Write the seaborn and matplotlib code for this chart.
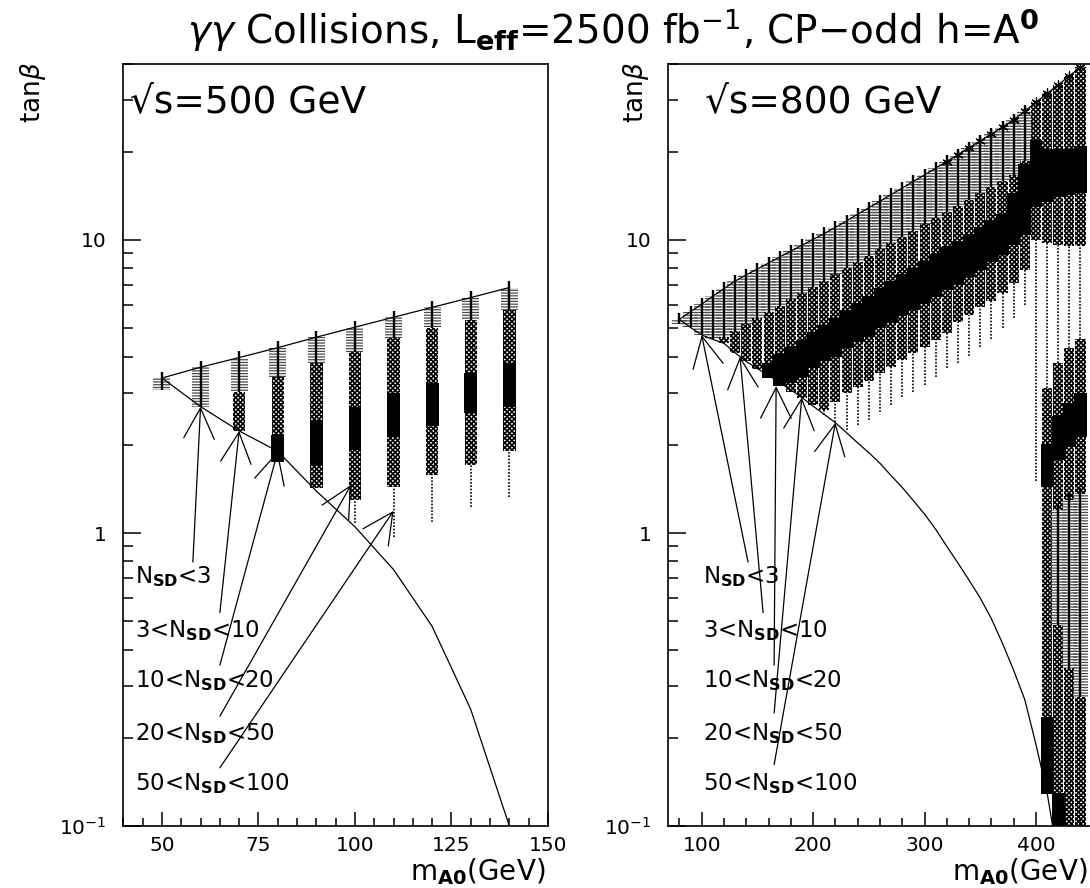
import numpy as np
import matplotlib
matplotlib.use("Agg")
import matplotlib.pyplot as plt
import matplotlib.ticker as mticker
import seaborn as sns

sns.set_style("ticks")
plt.rcParams["font.family"] = ["DejaVu Sans"]
plt.rcParams["mathtext.fontset"] = "dejavusans"
plt.rcParams["hatch.linewidth"] = 1.1
for key in ("text.color", "axes.labelcolor", "xtick.color", "ytick.color", "axes.edgecolor"):
    plt.rcParams[key] = "black"

# ---------- sqrt(s) = 500 GeV (left) ----------
l_mass = [50, 60, 70, 80, 90, 100, 110, 120, 130, 140]
l_top = [3.38, 3.68, 3.97, 4.29, 4.66, 5.04, 5.45, 5.89, 6.36, 6.88]
l_gray_lo = [3.08, 2.70, 3.04, 3.42, 3.79, 4.16, 4.62, 4.99, 5.33, 5.77]
l_black_hi = [3.08, 2.70, 2.23, 2.16, 2.43, 2.70, 3.00, 3.24, 3.51, 3.79]
l_black_lo = [3.08, 2.70, 2.23, 1.75, 1.71, 1.92, 2.13, 2.31, 2.56, 2.70]
l_cross_lo = [3.08, 2.70, 2.23, 1.75, 1.42, 1.30, 1.44, 1.58, 1.71, 1.90]
l_dot_lo = [3.08, 2.70, 2.23, 1.75, 1.42, 1.08, 0.97, 1.09, 1.23, 1.33]
l_curve = [3.38, 2.70, 2.23, 1.90, 1.39, 1.05, 0.75, 0.48, 0.25, 0.10]

# ---------- sqrt(s) = 800 GeV (right) ----------
r_mass = [80, 90, 100, 110, 120, 130, 140, 150, 160, 170, 180, 190, 200, 210,
          220, 230, 240, 250, 260, 270, 280, 290, 300, 310, 320, 330, 340, 350,
          360, 370, 380, 390, 400, 410, 420, 430, 440]
r_top = [5.36, 5.69, 6.04, 6.43, 6.82, 7.24, 7.60, 7.96, 8.34, 8.75, 9.16, 9.59,
         10.05, 10.52, 11.04, 11.61, 12.25, 12.88, 13.55, 14.29, 15.03, 15.85,
         16.67, 17.58, 18.53, 19.54, 20.65, 21.78, 23.01, 24.32, 25.70, 27.54,
         29.51, 31.62, 33.88, 36.31, 38.90]
r_gray_lo = [5.15, 5.03, 4.74, 4.58, 4.68, 4.91, 5.16, 5.41, 5.69, 5.97, 6.27, 6.59,
             6.92, 7.26, 7.64, 8.02, 8.41, 8.83, 9.29, 9.75, 10.23, 10.76, 11.30,
             11.86, 12.47, 13.09, 13.74, 14.43, 15.17, 15.92, 16.71, 18.6,
             29.51, 31.62, 33.88, 36.31, 38.90]
r_black_hi = [5.15, 5.03, 4.74, 4.58, 4.44, 4.12, 3.85, 3.64, 3.80, 4.07, 4.32, 4.57,
              4.84, 5.13, 5.43, 5.75, 6.10, 6.46, 6.84, 7.24, 7.64, 8.05, 8.49,
              8.95, 9.44, 9.95, 10.50, 11.07, 11.67, 12.30, 14.45, 18.2,
              21.88, 20.42, 20.42, 20.42, 20.89]
r_black_lo = [5.15, 5.03, 4.74, 4.58, 4.44, 4.12, 3.85, 3.64, 3.37, 3.18, 3.24, 3.42,
              3.65, 3.85, 4.00, 4.27, 4.50, 4.68, 5.00, 5.20, 5.56, 5.77, 6.08,
              6.40, 6.75, 7.03, 7.50, 7.91, 8.43, 8.89, 9.62, 10.40,
              12.97, 13.52, 14.06, 14.26, 14.42]
r_cross_lo = [5.15, 5.03, 4.74, 4.58, 4.44, 4.12, 3.85, 3.64, 3.37, 3.18, 3.03, 2.88,
              2.74, 2.63, 2.81, 3.00, 3.16, 3.29, 3.51, 3.70, 3.89, 4.10, 4.33,
              4.56, 4.80, 5.26, 5.56, 5.89, 6.17, 6.59, 7.13, 7.91,
              10.0, 9.75, 9.62, 9.51, 9.51]
r_dot_lo = [5.15, 5.03, 4.74, 4.58, 4.44, 4.12, 3.85, 3.64, 3.37, 3.18, 3.03, 2.88,
            2.74, 2.53, 2.40, 2.25, 2.34, 2.43, 2.59, 2.74, 2.92, 3.03, 3.20,
            3.42, 3.65, 3.79, 4.03, 4.33, 4.61, 5.00, 5.41, 6.00,
            1.5, 3.12, 3.80, 4.27, 4.60]
r_curve_m = [80, 90, 100, 110, 120, 130, 140, 150, 160, 170, 180, 190, 200, 210,
             220, 230, 240, 250, 260, 270, 280, 290, 300, 310, 320, 330, 340, 350,
             360, 370, 380, 390, 400, 410, 415]
r_curve = [5.36, 5.03, 4.74, 4.58, 4.44, 4.12, 3.85, 3.64, 3.45, 3.26, 3.08, 2.90,
           2.71, 2.54, 2.38, 2.20, 2.03, 1.88, 1.73, 1.57, 1.43, 1.29, 1.16, 1.03,
           0.90, 0.79, 0.69, 0.60, 0.51, 0.42, 0.34, 0.27, 0.19, 0.13, 0.10]
# second island near threshold, low tan(beta)
r_low_m = [410, 410, 410, 410, 420, 420, 420, 420, 420, 420,
           430, 430, 430, 430, 430, 440, 440, 440, 440, 440]
r_low_kind = ["cross", "black", "cross", "black",
              "cross", "black", "cross", "gray", "cross", "black",
              "cross", "black", "cross", "gray", "cross",
              "cross", "black", "cross", "gray", "cross"]
r_low_hi = [3.12, 2.02, 1.44, 0.236, 3.80, 2.50, 1.77, 1.20, 0.485, 0.13,
            4.27, 2.77, 1.97, 1.30, 0.345, 4.60, 3.00, 2.13, 1.36, 0.276]
r_low_lo = [2.02, 1.44, 0.236, 0.129, 2.50, 1.77, 1.20, 0.485, 0.13, 0.10,
            2.77, 1.97, 1.30, 0.345, 0.10, 3.00, 2.13, 1.36, 0.276, 0.10]
r_star_m = [320, 330, 340, 350, 360, 370, 380, 390, 400, 410, 420, 430, 440]

# ---------- legend texts / arrows ----------
labels = [r"N$_{\mathbf{SD}}$<3", r"3<N$_{\mathbf{SD}}$<10", r"10<N$_{\mathbf{SD}}$<20",
          r"20<N$_{\mathbf{SD}}$<50", r"50<N$_{\mathbf{SD}}$<100"]
label_y = [0.675, 0.441, 0.298, 0.196, 0.133]
l_arrow_from = [(58.0, 0.796), (65.0, 0.535), (65.0, 0.354), (65.0, 0.237), (65.0, 0.158)]
l_arrow_to = [(60, 2.70), (70, 2.23), (80, 1.90), (99, 1.46), (110, 1.19)]
r_arrow_from = [(141.6, 0.796), (155.1, 0.535), (165, 0.354), (165, 0.243), (165, 0.162)]
r_arrow_to = [(100, 4.74), (134.4, 4.0), (166.8, 3.17), (189.8, 2.90), (220, 2.38)]


def hatched(ax, m, hi, lo, width, color, pattern, hlw):
    bars = ax.bar(m, hi - lo, bottom=lo, width=width, color="none", edgecolor=color,
                  hatch=pattern, lw=0, zorder=2)
    for p in bars:
        if hasattr(p, "set_hatch_linewidth"):
            p.set_hatch_linewidth(hlw)


def band(ax, m, hi, lo, kind, w):
    if hi <= lo:
        return
    if kind == "gray":
        hatched(ax, m, hi, lo, w[0], "#4a4a4a", "------", 0.9)
        ax.vlines(m, lo, hi * 1.05, color="black", lw=1.7, zorder=3)
    elif kind == "cross":
        hatched(ax, m, hi, lo, w[1], "black", "xxxxxxx", 1.2)
    elif kind == "black":
        ax.bar(m, hi - lo, bottom=lo, width=w[2], color="black", lw=0, zorder=3)
    else:
        ax.vlines(m, lo, hi, color="black", lw=1.2, linestyles=(0, (1, 1)), zorder=2)


def columns(ax, mass, top, g_lo, b_hi, b_lo, c_lo, d_lo, w):
    for i, m in enumerate(mass):
        band(ax, m, top[i], g_lo[i], "gray", w)
        band(ax, m, g_lo[i], b_hi[i], "cross", w)
        band(ax, m, b_hi[i], b_lo[i], "black", w)
        band(ax, m, b_lo[i], c_lo[i], "cross", w)
        band(ax, m, c_lo[i], d_lo[i], "dot", w)


def style(ax, xlim, major, minor):
    ax.set_yscale("log")
    ax.set_xlim(*xlim)
    ax.set_ylim(0.1, 40)
    ax.xaxis.set_major_locator(mticker.MultipleLocator(major))
    ax.xaxis.set_minor_locator(mticker.MultipleLocator(minor))
    ax.yaxis.set_major_locator(mticker.FixedLocator([0.1, 1, 10]))
    ax.yaxis.set_major_formatter(mticker.FixedFormatter([r"$10^{-1}$", "1", "10"]))
    ax.yaxis.set_minor_locator(mticker.LogLocator(subs=np.arange(2, 10), numticks=20))
    ax.yaxis.set_minor_formatter(mticker.NullFormatter())
    ax.tick_params(which="both", direction="in", top=False, right=False, labelsize=14.5,
                   width=1.1)
    ax.tick_params(axis="x", which="major", length=10, pad=7)
    ax.tick_params(axis="x", which="minor", length=6)
    ax.tick_params(axis="y", which="major", length=13, pad=12)
    ax.tick_params(axis="y", which="minor", length=7)
    for sp in ax.spines.values():
        sp.set_linewidth(1.2)
    ax.set_xlabel("")
    ax.set_ylabel("")


def annotate(ax, lab_x, frm, to):
    for lab, y, a, b in zip(labels, label_y, frm, to):
        ax.text(lab_x, y, lab, fontsize=16.5, ha="left", va="baseline", zorder=5)
        ax.annotate("", xy=b, xytext=a,
                    arrowprops=dict(arrowstyle="->,head_length=1.1,head_width=0.55",
                                    mutation_scale=20, lw=0.9, color="black",
                                    shrinkA=0, shrinkB=0), zorder=5)


fig = plt.figure(figsize=(10.9, 8.88), dpi=100)
ax_l = fig.add_axes([0.1132, 0.0698, 0.3895, 0.8586])
ax_r = fig.add_axes([0.6131, 0.0698, 0.3884, 0.8586])

# left panel
columns(ax_l, l_mass, l_top, l_gray_lo, l_black_hi, l_black_lo, l_cross_lo, l_dot_lo,
        (4.4, 3.2, 3.3))
sns.lineplot(x=l_mass, y=l_top, ax=ax_l, color="black", lw=0.9, sort=False, estimator=None)
sns.lineplot(x=l_mass, y=l_curve, ax=ax_l, color="black", lw=0.9, sort=False, estimator=None)
style(ax_l, (40, 150), 25, 5)
annotate(ax_l, 43.0, l_arrow_from, l_arrow_to)
ax_l.text(0.015, 0.935, "√s=500 GeV", transform=ax_l.transAxes, fontsize=27,
          ha="left", va="baseline")

# right panel
wr = (14.0, 9.0, 11.5)
columns(ax_r, r_mass, r_top, r_gray_lo, r_black_hi, r_black_lo, r_cross_lo, r_dot_lo, wr)
for m, k, hi, lo in zip(r_low_m, r_low_kind, r_low_hi, r_low_lo):
    band(ax_r, m, hi, lo, k, wr)
sns.lineplot(x=r_mass, y=r_top, ax=ax_r, color="black", lw=0.9, sort=False, estimator=None)
sns.lineplot(x=r_curve_m, y=r_curve, ax=ax_r, color="black", lw=0.9, sort=False,
             estimator=None)
star_y = [r_top[r_mass.index(m)] for m in r_star_m]
sns.scatterplot(x=r_star_m, y=star_y, ax=ax_r, marker=(6, 2, 0), s=45, color="black",
                linewidth=0.9, zorder=4)
style(ax_r, (70, 450), 100, 20)
annotate(ax_r, 101.2, r_arrow_from, r_arrow_to)
ax_r.text(0.087, 0.935, "√s=800 GeV", transform=ax_r.transAxes, fontsize=27,
          ha="left", va="baseline")

# axis titles
for ax, xl in ((ax_l, 0.995), (ax_r, 0.99)):
    ax.text(xl, -0.071, r"m$_{\mathbf{A0}}$(GeV)", transform=ax.transAxes, fontsize=20,
            ha="right", va="baseline")
fig.text(33 / 1090, 1 - 62 / 888, r"tan$\beta$", rotation=90, fontsize=19,
         ha="center", va="top")
fig.text(636 / 1090, 1 - 62 / 888, r"tan$\beta$", rotation=90, fontsize=19,
         ha="center", va="top")

fig.text(0.5625, 0.966,
         r"$\gamma\gamma$ Collisions, L$_{\mathbf{eff}}$=2500 fb$^{-1}$, CP−odd h=A$^{\mathbf{0}}$",
         fontsize=28, ha="center", va="center")

fig.savefig("out.png", dpi=100)
